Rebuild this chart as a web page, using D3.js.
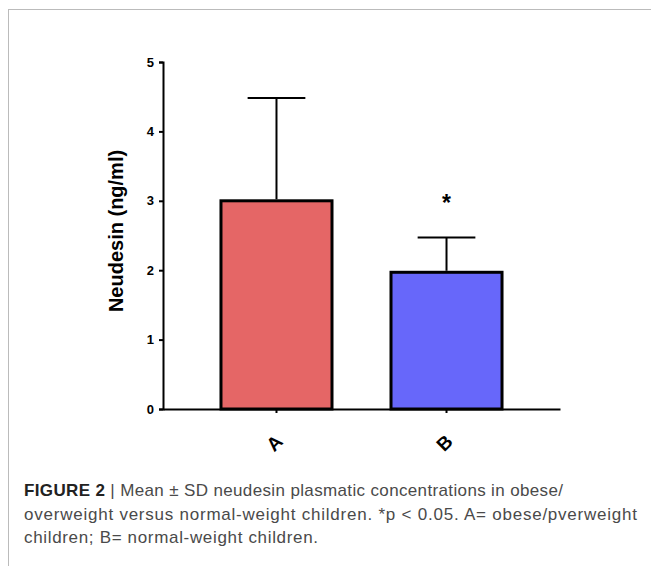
<!DOCTYPE html>
<html>
<head>
  <meta charset="utf-8">
  <title>Neudesin bar chart</title>
  <script src="https://d3js.org/d3.v7.min.js"></script>
  <style>
    body { margin: 0; background: #fff; }
  </style>
</head>
<body>
<script>
// chart data
var groups = ['A', 'B'];
var means = [3.0, 1.97];
var sds = [1.48, 0.5];
var barColors = ['#e56666', '#6767fa'];
var signif = ['', '*'];
var yTicks = [0, 1, 2, 3, 4, 5];
var captionLines = [
  [['FIGURE 2', true], [' | Mean ± SD neudesin plasmatic concentrations in obese/', false]],
  [['overweight versus normal-weight children. *p < 0.05. A= obese/pverweight', false]],
  [['children; B= normal-weight children.', false]]
];
var captionWidths = [539, 613, 294];

var width = 651, height = 566;

var svg = d3.select('body').append('svg')
  .attr('width', width)
  .attr('height', height);

// page frame
svg.append('line').attr('x1', 8).attr('x2', width).attr('y1', 9.5).attr('y2', 9.5)
  .attr('stroke', '#bbb').attr('stroke-width', 1);
svg.append('line').attr('x1', 8.5).attr('x2', 8.5).attr('y1', 9).attr('y2', height)
  .attr('stroke', '#bbb').attr('stroke-width', 1);

// scales
var y = d3.scaleLinear().domain([0, 5]).range([409, 62]);
var x = d3.scaleBand().domain(groups).range([163, 560]).paddingInner(0.347).paddingOuter(0.341);

var g = svg.append('g');

// bars
g.selectAll('rect.bar')
  .data(groups)
  .enter().append('rect')
  .attr('class', 'bar')
  .attr('x', function(d) { return x(d); })
  .attr('y', function(d, i) { return y(means[i]); })
  .attr('width', x.bandwidth())
  .attr('height', function(d, i) { return y(0) - y(means[i]); })
  .attr('fill', function(d, i) { return barColors[i]; })
  .attr('stroke', '#000')
  .attr('stroke-width', 3);

// error bars (upper only)
var eb = g.selectAll('g.err').data(groups).enter().append('g').attr('class', 'err');
eb.append('line')
  .attr('x1', function(d) { return x(d) + x.bandwidth() / 2; })
  .attr('x2', function(d) { return x(d) + x.bandwidth() / 2; })
  .attr('y1', function(d, i) { return y(means[i]) - 1.5; })
  .attr('y2', function(d, i) { return y(means[i] + sds[i]); })
  .attr('stroke', '#000').attr('stroke-width', 2);
eb.append('line')
  .attr('x1', function(d) { return x(d) + x.bandwidth() * 0.24; })
  .attr('x2', function(d) { return x(d) + x.bandwidth() * 0.76; })
  .attr('y1', function(d, i) { return y(means[i] + sds[i]); })
  .attr('y2', function(d, i) { return y(means[i] + sds[i]); })
  .attr('stroke', '#000').attr('stroke-width', 2);

// significance marks
g.selectAll('text.sig').data(groups).enter().append('text')
  .attr('class', 'sig')
  .attr('x', function(d) { return x(d) + x.bandwidth() / 2; })
  .attr('y', function(d, i) { return y(means[i] + sds[i]) - 27; })
  .attr('text-anchor', 'middle')
  .style('font', 'bold 23px Arial, "Liberation Sans", sans-serif')
  .text(function(d, i) { return signif[i]; });

// y axis
var yAxis = svg.append('g')
  .attr('transform', 'translate(163,0)')
  .call(d3.axisLeft(y).tickValues(yTicks).tickSize(4).tickFormat(d3.format('d')));
yAxis.select('.domain').attr('stroke', '#000').attr('stroke-width', 2);
yAxis.selectAll('.tick line').attr('stroke', '#000').attr('stroke-width', 2);
yAxis.selectAll('.tick text')
  .attr('x', -9)
  .style('font', 'bold 13px Arial, "Liberation Sans", sans-serif')
  .attr('fill', '#000');

// x axis
var xAxis = svg.append('g')
  .attr('transform', 'translate(0,409)')
  .call(d3.axisBottom(x).tickSize(4).tickSizeOuter(0));
xAxis.select('.domain').attr('stroke', '#000').attr('stroke-width', 2);
xAxis.selectAll('.tick line').attr('stroke', '#000').attr('stroke-width', 2);
xAxis.selectAll('.tick text')
  .attr('y', 0).attr('dy', 0)
  .attr('transform', 'translate(-2,34) rotate(-45)')
  .attr('text-anchor', 'middle')
  .attr('dominant-baseline', 'central')
  .style('font', 'bold 19px Arial, "Liberation Sans", sans-serif')
  .attr('fill', '#000');

// y title
svg.append('text')
  .attr('transform', 'translate(123,231) rotate(-90)')
  .attr('text-anchor', 'middle')
  .style('font', 'bold 20px Arial, "Liberation Sans", sans-serif')
  .text('Neudesin (ng/ml)');

// caption
var cap = svg.append('g');
captionLines.forEach(function(line, i) {
  var t = cap.append('text')
    .attr('x', 24)
    .attr('y', 496 + i * 23.5)
    .attr('textLength', captionWidths[i])
    .attr('lengthAdjust', 'spacing')
    .style('font-family', 'Arial, "Liberation Sans", sans-serif')
    .style('font-size', '17px')
    .attr('fill', '#333');
  line.forEach(function(part) {
    t.append('tspan')
      .style('font-weight', part[1] ? 'bold' : 'normal')
      .attr('fill', part[1] ? '#222' : '#4a4a4a')
      .text(part[0]);
  });
});
</script>
</body>
</html>
